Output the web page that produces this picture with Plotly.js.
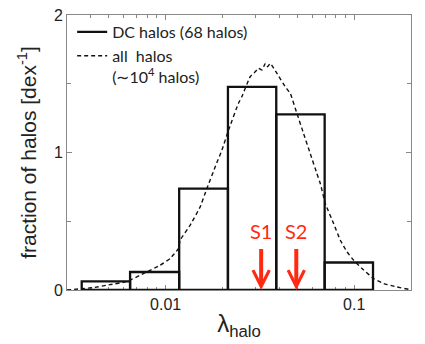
<!DOCTYPE html>
<html>
<head>
<meta charset="utf-8">
<script src="https://cdn.plot.ly/plotly-3.0.1.min.js"></script>
<style>html,body{margin:0;padding:0;background:#fff;}#chart{width:425px;height:344px;}</style>
</head>
<body>
<div id="chart"></div>
<script>
// Bin edges of the DC-halo histogram (lambda_halo)
const binEdges = [0.00359, 0.00648, 0.0118, 0.0214, 0.0386, 0.0697, 0.1258];
// Fraction of DC halos per dex in each bin
const dcFraction = [0.063, 0.131, 0.738, 1.478, 1.277, 0.200];
// All halos distribution (dashed curve)
const allLambda = [0.00300, 0.00359, 0.00414, 0.00507, 0.00622, 0.00762, 0.00935, 0.01057, 0.01170,
  0.01194, 0.01349, 0.01524, 0.01655, 0.01832, 0.01988, 0.02156, 0.02431, 0.02535, 0.02806,
  0.02985, 0.03107, 0.03243, 0.03376, 0.03470, 0.03589, 0.03893, 0.04306, 0.04581, 0.04969,
  0.05385, 0.05843, 0.06340, 0.06607, 0.07026, 0.07775, 0.08440, 0.09159, 0.09931, 0.1122,
  0.1268, 0.1432, 0.1686, 0.1944, 0.2000];
const allFraction = [0.000, 0.010, 0.017, 0.039, 0.061, 0.119, 0.180, 0.229, 0.301,
  0.362, 0.471, 0.604, 0.738, 0.896, 1.017, 1.163, 1.357, 1.405, 1.551,
  1.587, 1.612, 1.600, 1.648, 1.624, 1.648, 1.576, 1.478, 1.430, 1.284,
  1.139, 0.993, 0.847, 0.775, 0.629, 0.483, 0.362, 0.277, 0.216, 0.145,
  0.083, 0.047, 0.022, 0.005, 0.003];
// Markers S1, S2
const markerNames = ["S1", "S2"];
const markerLambda = [0.0321, 0.0493];
const arrowTop = 0.31;
const labelY = 0.43;
// Tick labels
const xTickVals = [0.01, 0.1];
const xTickText = ["0.01", "0.1"];
const yTickVals = [0, 1, 2];
const yTickText = ["0", "1", "2"];

const red = "#ff2a14";

// Build outlined rectangles for the histogram
const hx = [], hy = [];
for (let i = 0; i < dcFraction.length; i++) {
  const a = binEdges[i], b = binEdges[i + 1], h = dcFraction[i];
  hx.push(a, a, b, b, a, null);
  hy.push(0, h, h, 0, 0, null);
}

const traces = [
  {
    type: "scatter", mode: "lines", x: allLambda, y: allFraction,
    name: "all  halos<br>(∼10<sup>4</sup> halos)",
    line: {color: "#111", width: 1.4, dash: "4px,3px", shape: "spline", smoothing: 0.3},
    legendrank: 2, hoverinfo: "skip", cliponaxis: false
  },
  {
    type: "scatter", mode: "lines", x: hx, y: hy,
    name: "DC halos (68 halos)",
    line: {color: "#111", width: 2.3},
    connectgaps: false, legendrank: 1, hoverinfo: "skip", cliponaxis: false
  }
];

const annotations = [];
markerNames.forEach((n, i) => {
  annotations.push({
    x: Math.log10(markerLambda[i]), y: 0, xref: "x", yref: "y",
    ax: 0, ay: arrowTop, axref: "pixel", ayref: "y",
    text: "", showarrow: true, arrowhead: 5, arrowsize: 0.8, arrowwidth: 4,
    arrowcolor: red, standoff: 0, startstandoff: 0
  });
  annotations.push({
    x: Math.log10(markerLambda[i]), y: labelY, xref: "x", yref: "y",
    text: n, showarrow: false,
    font: {family: "Lato, 'Open Sans', sans-serif", size: 20, color: red},
    xanchor: "center", yanchor: "middle"
  });
});

const axisFont = {family: "'Liberation Sans', Arial, sans-serif", size: 16, color: "#222"};

const layout = {
  width: 425, height: 344,
  margin: {l: 67, r: 14, t: 15, b: 54},
  paper_bgcolor: "#fff", plot_bgcolor: "#fff",
  showlegend: true,
  legend: {
    x: 0.015, y: 1.0, xanchor: "left", yanchor: "top",
    bgcolor: "rgba(0,0,0,0)", borderwidth: 0,
    font: {family: "Lato, 'Open Sans', sans-serif", size: 16, color: "#222"},
    valign: "top", tracegroupgap: 2, itemwidth: 30
  },
  xaxis: {
    type: "log", range: [Math.log10(0.003), Math.log10(0.2)],
    tickmode: "array", tickvals: xTickVals, ticktext: xTickText,
    ticks: "inside", ticklen: 5, tickcolor: "#888", tickwidth: 1,
    minor: {dtick: "D1", ticks: "inside", ticklen: 3, tickcolor: "#888", showgrid: false},
    showline: true, linecolor: "#888", linewidth: 1, mirror: "ticks",
    showgrid: false, zeroline: false, layer: "below traces",
    tickfont: axisFont,
    title: {text: "λ<sub>halo</sub>", font: {family: "'Liberation Sans', Arial, sans-serif", size: 24, color: "#222"}, standoff: 2}
  },
  yaxis: {
    range: [0, 2],
    tickmode: "array", tickvals: yTickVals, ticktext: yTickText,
    ticks: "inside", ticklen: 5, tickcolor: "#888", tickwidth: 1,
    minor: {dtick: 0.5, ticks: "inside", ticklen: 4, tickcolor: "#888", showgrid: false},
    showline: true, linecolor: "#888", linewidth: 1, mirror: "ticks",
    showgrid: false, zeroline: false, layer: "below traces",
    tickfont: axisFont,
    title: {text: "fraction of halos [dex<sup>-1</sup>]", font: {family: "'Liberation Sans', Arial, sans-serif", size: 21, color: "#222"}, standoff: 11}
  },
  annotations: annotations
};

Plotly.newPlot("chart", traces, layout, {staticPlot: true, displayModeBar: false});
</script>
</body>
</html>
